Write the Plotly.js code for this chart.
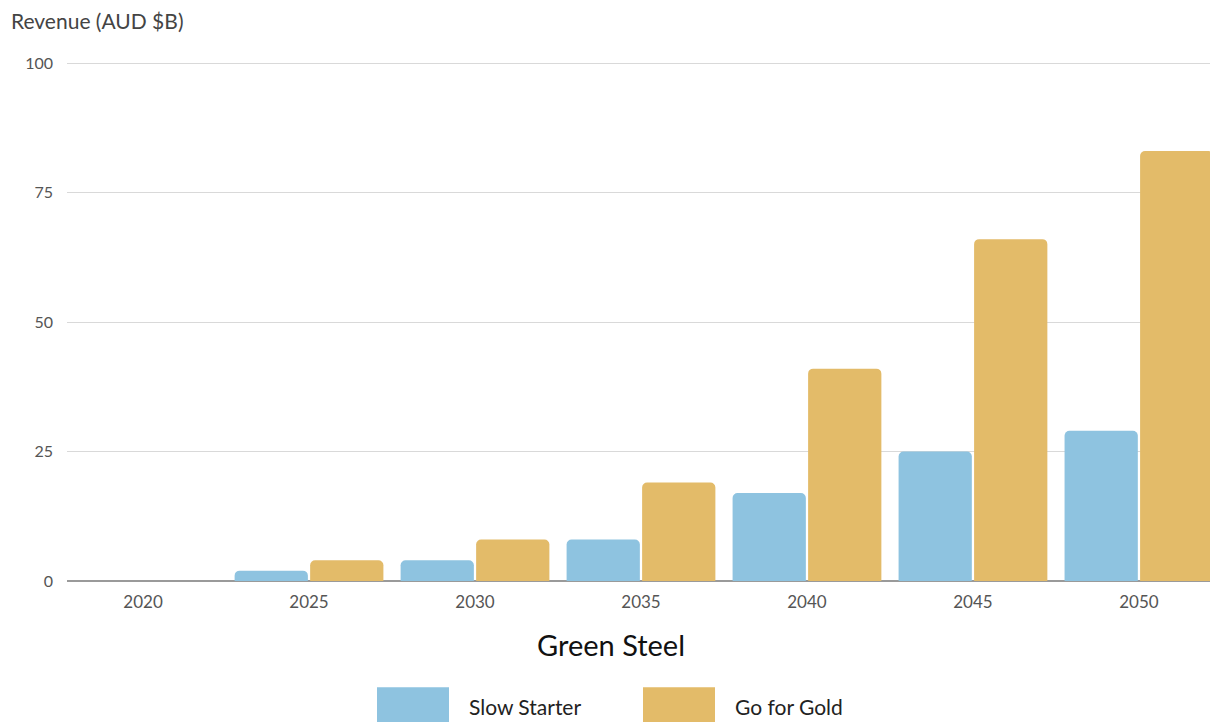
<!DOCTYPE html>
<html>
<head>
<meta charset="utf-8">
<script src="https://cdn.plot.ly/plotly-3.0.1.min.js"></script>
<style>
  html, body { margin: 0; padding: 0; background: #fff; overflow: hidden; }
  #chart { width: 1210px; height: 722px; }
</style>
</head>
<body>
<div id="chart"></div>
<script>
// Revenue by year for the two green steel scenarios (AUD $B)
const years = ['2020', '2025', '2030', '2035', '2040', '2045', '2050'];
const slowStarter = [0, 2, 4, 8, 17, 25, 29];
const goForGold = [0, 4, 8, 19, 41, 66, 83];
const seriesNames = ['Slow Starter', 'Go for Gold'];
const seriesColors = ['#8ec3e0', '#e3bb69'];
const yTicks = [0, 25, 50, 75, 100];

const FONT = 'Lato, "Open Sans", sans-serif';

const traces = [slowStarter, goForGold].map((vals, i) => ({
  type: 'bar',
  name: seriesNames[i],
  x: years,
  y: vals,
  marker: { color: seriesColors[i], cornerradius: 5, line: { width: 0 } },
  hoverinfo: 'x+y+name',
  showlegend: false
}));

// Legend drawn as large colour swatches with labels under the axis title
const swatchShapes = seriesColors.map((c, i) => ({
  type: 'rect', xref: 'paper', yref: 'paper',
  x0: (377 + i * 266 - 67) / 1143, x1: (449 + i * 266 - 67) / 1143,
  y0: -(687 - 581) / 518 - 40 / 518, y1: -(687 - 581) / 518,
  fillcolor: c, line: { width: 0 }
}));

const legendLabels = seriesNames.map((n, i) => ({
  xref: 'paper', yref: 'paper',
  x: (467 + i * 266 - 67) / 1143, y: -(706 - 581) / 518,
  xanchor: 'left', yanchor: 'middle', showarrow: false,
  text: n, font: { family: FONT, size: 21, color: '#222' }
}));

const layout = {
  width: 1210,
  height: 722,
  margin: { l: 67, r: 0, t: 62, b: 141, pad: 0 },
  paper_bgcolor: '#fff',
  plot_bgcolor: '#fff',
  font: { family: FONT, color: '#555' },
  barmode: 'group',
  bargap: 0.09,
  bargroupgap: 0.03,
  xaxis: {
    type: 'category',
    range: [-0.458, 6.428],
    showgrid: false,
    showline: false,
    zeroline: false,
    ticks: '',
    ticklabelstandoff: 9,
    tickfont: { family: FONT, size: 17, color: '#555' },
    fixedrange: true
  },
  yaxis: {
    range: [0, 100.2],
    tickvals: yTicks,
    ticktext: yTicks.map(String),
    showgrid: true,
    gridcolor: '#d9d9d9',
    gridwidth: 1,
    zeroline: true,
    zerolinecolor: '#9a9a9a',
    zerolinewidth: 2,
    showline: false,
    ticks: '',
    ticklabelstandoff: 13,
    tickfont: { family: FONT, size: 16, color: '#555' },
    fixedrange: true
  },
  shapes: swatchShapes,
  annotations: [
    {
      xref: 'paper', yref: 'paper',
      x: -58 / 1143, y: 1 + 41 / 518,
      xanchor: 'left', yanchor: 'middle', showarrow: false,
      text: 'Revenue (AUD $B)',
      font: { family: FONT, size: 21, color: '#444' }
    },
    {
      xref: 'paper', yref: 'paper',
      x: (611 - 67) / 1143, y: -(644 - 581) / 518,
      xanchor: 'center', yanchor: 'middle', showarrow: false,
      text: 'Green Steel',
      font: { family: FONT, size: 29, color: '#111' }
    }
  ].concat(legendLabels),
  showlegend: false
};

Plotly.newPlot('chart', traces, layout, { displayModeBar: false });
</script>
</body>
</html>
